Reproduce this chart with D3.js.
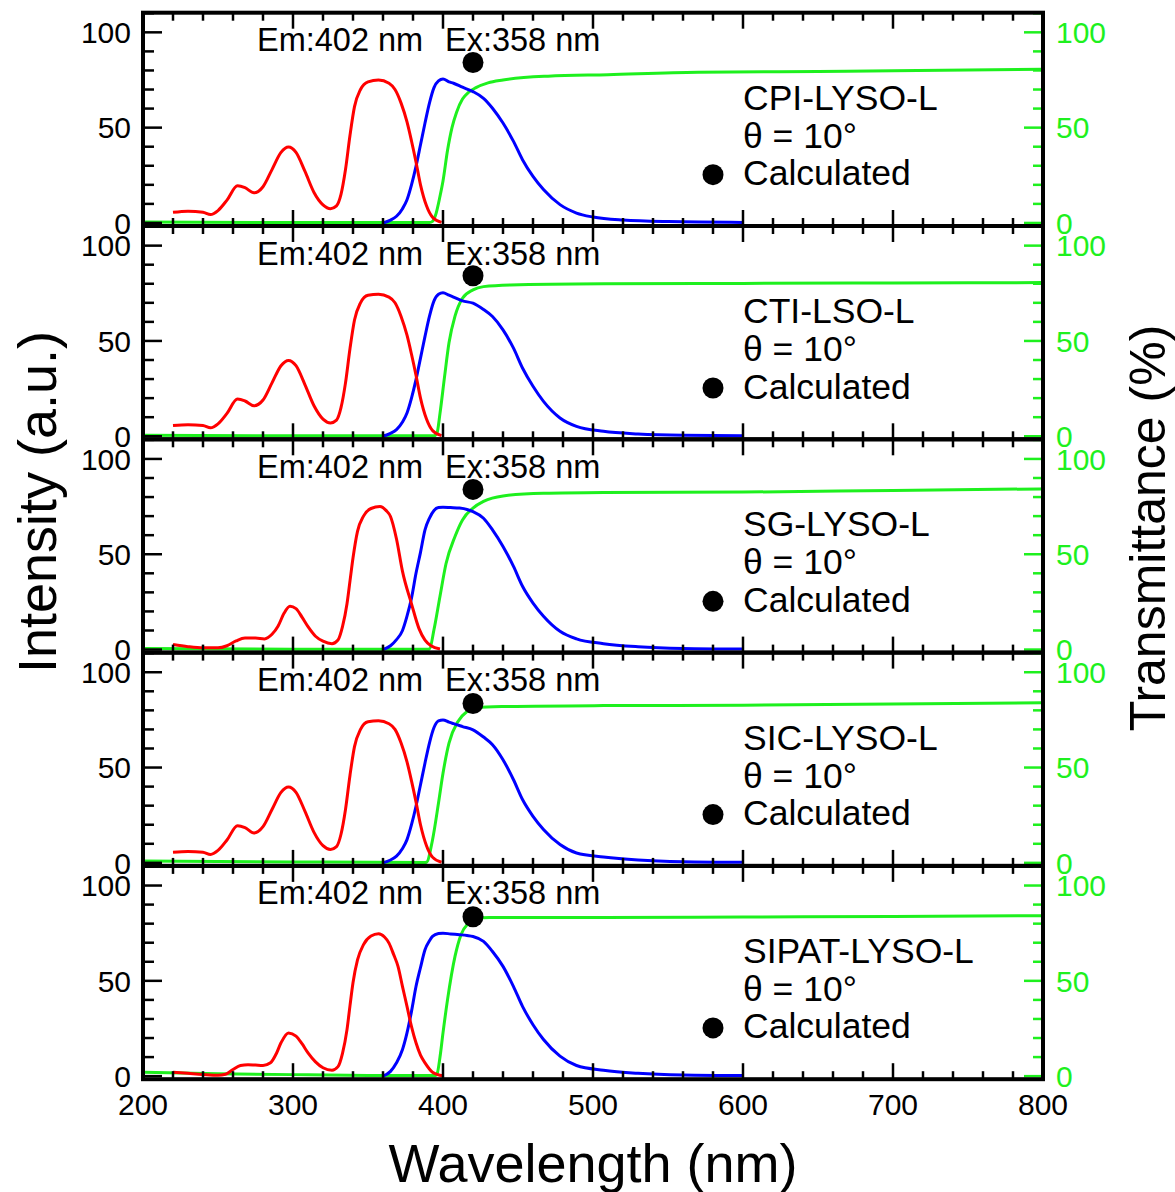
<!DOCTYPE html>
<html><head><meta charset="utf-8">
<script src="https://cdn.jsdelivr.net/npm/d3@7"></script>
<style>body{margin:0;background:#fff}svg{display:block}text{font-family:"Liberation Sans",Arial,sans-serif}</style>
</head><body>
<script>
// ---- data ----
const panelNames = ["CPI-LYSO-L","CTI-LSO-L","SG-LYSO-L","SIC-LYSO-L","SIPAT-LYSO-L"];
const calcWavelength = 420;
const calcValues = [84.2, 84.2, 84.0, 83.6, 83.6];
const xTicks = [200,300,400,500,600,700,800];
const yTickLabels = [0,50,100];

const ex1 = [[220,5.6],[230,6.2],[240,5.6],[245,4.4],[250,6.5],[256,12],[263,19.5],[268,18.5],[274,15.8],[280,19],[286,28],[292,37],[297,39.8],[302,37],[308,27],[314,16],[320,9.5],[325,7.5],[329,9],[332,15],[335,28],[338,46],[341,61],[345,70],[350,74],[357,75],[364,73.3],[368,70],[372,63],[376,53],[379,43],[382,32],[385,20],[389,9],[393,3],[399,0.3]];
const em1 = [[360,0],[365,1.5],[369,3.5],[373,7.5],[376,12.2],[379,20],[382,29.7],[385,41],[388,52.4],[391,63],[394,71],[397,74.5],[400,75.5],[404,74],[407,73.3],[413,71.2],[420,68.9],[427,65.4],[433,60.2],[440,52.4],[447,42.8],[453,33.2],[460,24.4],[467,17.5],[478,9.6],[489,5.2],[500,3.1],[520,1.5],[550,0.7],[600,0.3]];
const tr1 = [[200,0.5],[300,0.2],[391,0.2],[393,0.8],[395,4],[398,14],[400,22],[403,38],[406,50],[409,58],[413,65],[417,68.5],[422,71],[430,73.5],[440,75],[470,77],[510,77.8],[570,79],[650,79.5],[700,79.8],[800,80.6]];

const ex2 = [[220,5.6],[230,6],[240,5.6],[245,4.4],[250,6.5],[256,12],[263,19.5],[268,18.5],[274,16],[280,19],[286,28],[292,37],[297,39.8],[302,37],[308,27],[314,16],[320,9],[325,7],[329,8.5],[332,15],[335,28],[338,46],[341,61],[345,70],[350,74],[357,74.5],[364,73],[368,70],[372,63],[376,53],[379,43],[382,32],[385,20],[389,9],[393,3],[399,0.3]];
const em2 = [[360,0],[365,1.5],[369,3.5],[373,7.5],[376,12.2],[379,20],[382,29.7],[385,41],[388,52.4],[391,63],[394,71],[397,74.5],[400,75.3],[404,74],[407,73],[413,71],[420,69.8],[427,66.5],[433,62.8],[440,55.8],[447,46.2],[453,35.8],[460,26.2],[467,18.3],[478,9.6],[489,5.2],[507,2.6],[530,1.2],[560,0.5],[600,0.3]];
const tr2 = [[200,0.5],[300,0.2],[394,0.2],[396,1.7],[398,12],[401,31],[404,49],[408,63],[413,72.4],[420,76.8],[427,78.5],[445,79.4],[507,80],[600,80.2],[700,80.4],[800,80.6]];

const ex3 = [[220,2.6],[230,1.5],[240,0.9],[250,0.9],[256,2],[262,4.5],[268,6],[275,6],[281,5.6],[286,8],[290,12.2],[294,19],[298,22.7],[302,21.5],[306,17],[310,12],[315,7],[320,4.4],[326,3.1],[330,5],[333,12],[336,24],[338,36],[340,48],[343,62],[347,70],[352,74],[358,75],[362,73],[365,69.8],[369,58],[373,41],[379,24],[384,11],[388,5],[392,2],[398,0.3]];
const em3 = [[360,0],[365,2],[369,5.2],[373,10],[376,17.5],[379,27],[382,40],[385,51],[388,62.8],[391,69],[394,73],[397,74.5],[400,74.7],[405,74.5],[411,74.2],[416,73.5],[420,72.4],[427,68.9],[433,62.8],[440,54.1],[447,43.6],[453,33.2],[460,24.4],[467,17.5],[478,9.6],[489,5.6],[507,3.1],[530,1.5],[560,0.6],[600,0.3]];
const tr3 = [[200,0.5],[300,0.2],[390,0.2],[391,0.3],[394,10.5],[398,28],[402,45],[408,59.3],[413,68],[420,74.2],[427,77.7],[440,80.6],[467,82],[507,82.4],[600,82.6],[700,83.5],[800,84.3]];

const ex4 = [[220,5.6],[230,6],[240,5.6],[245,4.4],[250,6.5],[256,12],[263,19.5],[268,18.5],[274,15.7],[280,19],[286,28],[292,37],[297,39.8],[302,37],[308,27],[314,16],[320,9],[325,7],[329,8.5],[332,15],[335,28],[338,46],[341,61],[345,70],[350,74],[357,74.5],[364,73],[368,70],[372,63],[376,53],[379,43],[382,32],[385,20],[389,9],[393,3],[399,0.3]];
const em4 = [[360,0],[365,1.5],[369,3.5],[373,7.5],[376,12.2],[379,20],[382,29.7],[385,41],[388,52.4],[391,63],[394,71],[397,74.5],[400,75],[404,73.8],[407,73],[413,71.5],[420,69.8],[427,66],[433,62],[440,54.1],[447,43.6],[453,33.2],[460,24.4],[467,17.5],[478,9.6],[489,5.2],[507,3.1],[530,1.5],[560,0.6],[600,0.3]];
const tr4 = [[200,1],[300,0.5],[388,0.2],[389,0.3],[393,12],[397,31.4],[400,47],[404,62.8],[410,74.2],[416,79.4],[422,81.5],[440,82],[507,82.5],[600,82.7],[700,83.3],[800,84]];

const ex5 = [[220,2.1],[230,1.5],[240,0.9],[250,0.5],[255,1],[260,3.5],[265,5.6],[270,6],[275,5.8],[280,5.6],[285,7],[289,12],[292,17.5],[297,22.7],[302,21],[306,17],[310,12.2],[315,7.5],[320,4.4],[326,3.1],[330,5],[333,12],[336,24.4],[338,37],[340,49],[343,61],[347,69],[352,73.5],[357,74.7],[361,73],[364,69.8],[367,64],[370,57.6],[373,47],[376,36.6],[379,26],[382,17.5],[385,11],[388,7],[393,2.1],[400,0.2]];
const em5 = [[360,0],[365,2.5],[369,7],[373,14],[376,22.7],[379,34],[382,47],[385,57],[388,66.3],[391,71],[393,73.3],[397,74.8],[400,75],[405,74.6],[411,74.2],[416,73.8],[420,73.3],[427,70.7],[433,65.4],[440,57.6],[447,47],[453,36.6],[460,27],[467,19.2],[478,10.5],[489,5.6],[507,3.1],[530,1.5],[560,0.6],[600,0.3]];
const tr5 = [[200,2],[250,1.3],[300,0.8],[350,0.4],[395,0.3],[396,1],[398,10],[400,22.7],[403,40],[408,62.8],[412,74.2],[417,80.3],[422,82.5],[431,83.2],[507,83.2],[600,83.5],[700,83.8],[800,84.2]];

const excitation = [ex1, ex2, ex3, ex4, ex5];
const emission = [em1, em2, em3, em4, em5];
const transmittance = [tr1, tr2, tr3, tr4, tr5];

// ---- layout ----
const W = 1175, H = 1192;
const left = 143, right = 1043, top0 = 12.7, panelH = 213.3;
const RED = "#ff0000", BLUE = "#0000ff", GREEN = "#1ef01e";

const svg = d3.select("body").append("svg").attr("width", W).attr("height", H);
svg.append("rect").attr("width", W).attr("height", H).attr("fill", "#fff");

const x = d3.scaleLinear().domain([200, 800]).range([left, right]);
const xMinor = d3.range(200, 801, 20);

panelNames.forEach((name, i) => {
  const pTop = top0 + i * panelH, pBot = pTop + panelH;
  const y = d3.scaleLinear().domain([-1.6, 110.3]).range([pBot, pTop]);
  const g = svg.append("g");
  const line = d3.line().x(d => x(d[0])).y(d => y(d[1])).curve(d3.curveMonotoneX);

  g.append("path").datum(transmittance[i]).attr("d", line).attr("fill", "none").attr("stroke", GREEN).attr("stroke-width", 3);
  g.append("path").datum(emission[i]).attr("d", line).attr("fill", "none").attr("stroke", BLUE).attr("stroke-width", 3);
  g.append("path").datum(excitation[i]).attr("d", line).attr("fill", "none").attr("stroke", RED).attr("stroke-width", 3);

  // x ticks top & bottom
  xMinor.forEach(v => {
    const major = v % 100 === 0, len = major ? 16 : 8;
    g.append("line").attr("x1", x(v)).attr("x2", x(v)).attr("y1", pBot).attr("y2", pBot - len).attr("stroke", "#000").attr("stroke-width", 2.5);
    g.append("line").attr("x1", x(v)).attr("x2", x(v)).attr("y1", pTop).attr("y2", pTop + len).attr("stroke", "#000").attr("stroke-width", 2.5);
  });
  // y ticks left (black) & right (green)
  d3.range(0, 111, 10).forEach(v => {
    const major = v % 50 === 0;
    g.append("line").attr("x1", left).attr("x2", left + (major ? 19 : 11)).attr("y1", y(v)).attr("y2", y(v)).attr("stroke", "#000").attr("stroke-width", 2.5);
    g.append("line").attr("x1", right).attr("x2", right - (major ? 19 : 10)).attr("y1", y(v)).attr("y2", y(v)).attr("stroke", GREEN).attr("stroke-width", 2.5);
  });
  yTickLabels.forEach(v => {
    g.append("text").attr("x", 131).attr("y", y(v) + 10.7).attr("text-anchor", "end").attr("font-size", 30).attr("fill", "#000").text(v);
    g.append("text").attr("x", 1056).attr("y", y(v) + 10.7).attr("text-anchor", "start").attr("font-size", 30).attr("fill", GREEN).text(v);
  });

  // frame
  g.append("rect").attr("x", left).attr("y", pTop).attr("width", right - left).attr("height", panelH)
    .attr("fill", "none").attr("stroke", "#000").attr("stroke-width", 4);

  // annotations
  g.append("text").attr("x", 257).attr("y", pTop + 38.5).attr("font-size", 32.5).text("Em:402 nm");
  g.append("text").attr("x", 445).attr("y", pTop + 38.5).attr("font-size", 32.5).text("Ex:358 nm");
  g.append("circle").attr("cx", x(calcWavelength)).attr("cy", y(calcValues[i])).attr("r", 10.5).attr("fill", "#000");

  g.append("text").attr("x", 743).attr("y", pTop + 97).attr("font-size", 35.5).text(name);
  g.append("text").attr("x", 743).attr("y", pTop + 135).attr("font-size", 35.5).text("θ = 10°");
  g.append("circle").attr("cx", 713).attr("cy", pTop + 162).attr("r", 10.5).attr("fill", "#000");
  g.append("text").attr("x", 743).attr("y", pTop + 172.5).attr("font-size", 35.5).text("Calculated");
});

// x tick labels
xTicks.forEach(v => {
  svg.append("text").attr("x", x(v)).attr("y", 1115).attr("text-anchor", "middle").attr("font-size", 30).text(v);
});

// axis titles
svg.append("text").attr("x", 593).attr("y", 1182).attr("text-anchor", "middle").attr("font-size", 54).text("Wavelength (nm)");
svg.append("text").attr("transform", "translate(56,502) rotate(-90)").attr("text-anchor", "middle").attr("font-size", 54).text("Intensity (a.u.)");
svg.append("text").attr("transform", "translate(1165,528) rotate(-90)").attr("text-anchor", "middle").attr("font-size", 50).text("Transmittance (%)");
</script>
</body></html>
